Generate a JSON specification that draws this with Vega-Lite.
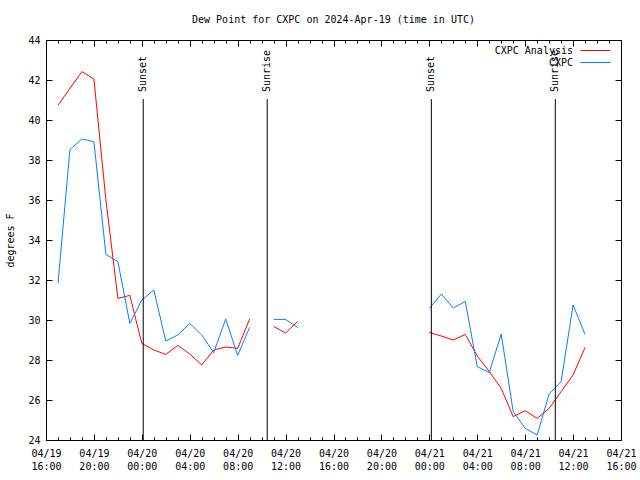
{
  "$schema": "https://vega.github.io/schema/vega-lite/v6.json",
  "width": 575,
  "height": 400,
  "autosize": {"type": "none"},
  "padding": {"left": 46, "top": 40, "right": 19, "bottom": 40},
  "background": "white",
  "title": {
    "text": "Dew Point for CXPC on 2024-Apr-19 (time in UTC)",
    "font": "DejaVu Sans Mono",
    "fontSize": 10,
    "fontWeight": "normal",
    "color": "black",
    "offset": 10
  },
  "datasets": {
    "obs": [
      {"t": "2024-04-19T17:00:00Z", "v": 40.73, "series": "CXPC Analysis", "seg": 1},
      {"t": "2024-04-19T18:00:00Z", "v": 41.58, "series": "CXPC Analysis", "seg": 1},
      {"t": "2024-04-19T19:00:00Z", "v": 42.42, "series": "CXPC Analysis", "seg": 1},
      {"t": "2024-04-19T20:00:00Z", "v": 42.05, "series": "CXPC Analysis", "seg": 1},
      {"t": "2024-04-19T21:00:00Z", "v": 36.0, "series": "CXPC Analysis", "seg": 1},
      {"t": "2024-04-19T22:00:00Z", "v": 31.08, "series": "CXPC Analysis", "seg": 1},
      {"t": "2024-04-19T23:00:00Z", "v": 31.23, "series": "CXPC Analysis", "seg": 1},
      {"t": "2024-04-20T00:00:00Z", "v": 28.83, "series": "CXPC Analysis", "seg": 1},
      {"t": "2024-04-20T01:00:00Z", "v": 28.5, "series": "CXPC Analysis", "seg": 1},
      {"t": "2024-04-20T02:00:00Z", "v": 28.28, "series": "CXPC Analysis", "seg": 1},
      {"t": "2024-04-20T03:00:00Z", "v": 28.73, "series": "CXPC Analysis", "seg": 1},
      {"t": "2024-04-20T04:00:00Z", "v": 28.3, "series": "CXPC Analysis", "seg": 1},
      {"t": "2024-04-20T05:00:00Z", "v": 27.75, "series": "CXPC Analysis", "seg": 1},
      {"t": "2024-04-20T06:00:00Z", "v": 28.5, "series": "CXPC Analysis", "seg": 1},
      {"t": "2024-04-20T07:00:00Z", "v": 28.65, "series": "CXPC Analysis", "seg": 1},
      {"t": "2024-04-20T08:00:00Z", "v": 28.58, "series": "CXPC Analysis", "seg": 1},
      {"t": "2024-04-20T09:00:00Z", "v": 30.05, "series": "CXPC Analysis", "seg": 1},
      {"t": "2024-04-20T11:00:00Z", "v": 29.68, "series": "CXPC Analysis", "seg": 2},
      {"t": "2024-04-20T12:00:00Z", "v": 29.35, "series": "CXPC Analysis", "seg": 2},
      {"t": "2024-04-20T13:00:00Z", "v": 29.93, "series": "CXPC Analysis", "seg": 2},
      {"t": "2024-04-21T00:00:00Z", "v": 29.38, "series": "CXPC Analysis", "seg": 3},
      {"t": "2024-04-21T01:00:00Z", "v": 29.2, "series": "CXPC Analysis", "seg": 3},
      {"t": "2024-04-21T02:00:00Z", "v": 29.0, "series": "CXPC Analysis", "seg": 3},
      {"t": "2024-04-21T03:00:00Z", "v": 29.28, "series": "CXPC Analysis", "seg": 3},
      {"t": "2024-04-21T04:00:00Z", "v": 28.2, "series": "CXPC Analysis", "seg": 3},
      {"t": "2024-04-21T05:00:00Z", "v": 27.42, "series": "CXPC Analysis", "seg": 3},
      {"t": "2024-04-21T06:00:00Z", "v": 26.58, "series": "CXPC Analysis", "seg": 3},
      {"t": "2024-04-21T07:00:00Z", "v": 25.17, "series": "CXPC Analysis", "seg": 3},
      {"t": "2024-04-21T08:00:00Z", "v": 25.47, "series": "CXPC Analysis", "seg": 3},
      {"t": "2024-04-21T09:00:00Z", "v": 25.08, "series": "CXPC Analysis", "seg": 3},
      {"t": "2024-04-21T10:00:00Z", "v": 25.58, "series": "CXPC Analysis", "seg": 3},
      {"t": "2024-04-21T11:00:00Z", "v": 26.42, "series": "CXPC Analysis", "seg": 3},
      {"t": "2024-04-21T12:00:00Z", "v": 27.25, "series": "CXPC Analysis", "seg": 3},
      {"t": "2024-04-21T13:00:00Z", "v": 28.63, "series": "CXPC Analysis", "seg": 3},
      {"t": "2024-04-19T17:00:00Z", "v": 31.83, "series": "CXPC", "seg": 1},
      {"t": "2024-04-19T18:00:00Z", "v": 38.53, "series": "CXPC", "seg": 1},
      {"t": "2024-04-19T19:00:00Z", "v": 39.05, "series": "CXPC", "seg": 1},
      {"t": "2024-04-19T20:00:00Z", "v": 38.92, "series": "CXPC", "seg": 1},
      {"t": "2024-04-19T21:00:00Z", "v": 33.28, "series": "CXPC", "seg": 1},
      {"t": "2024-04-19T22:00:00Z", "v": 32.92, "series": "CXPC", "seg": 1},
      {"t": "2024-04-19T23:00:00Z", "v": 29.83, "series": "CXPC", "seg": 1},
      {"t": "2024-04-20T00:00:00Z", "v": 31.0, "series": "CXPC", "seg": 1},
      {"t": "2024-04-20T01:00:00Z", "v": 31.5, "series": "CXPC", "seg": 1},
      {"t": "2024-04-20T02:00:00Z", "v": 28.95, "series": "CXPC", "seg": 1},
      {"t": "2024-04-20T03:00:00Z", "v": 29.25, "series": "CXPC", "seg": 1},
      {"t": "2024-04-20T04:00:00Z", "v": 29.83, "series": "CXPC", "seg": 1},
      {"t": "2024-04-20T05:00:00Z", "v": 29.25, "series": "CXPC", "seg": 1},
      {"t": "2024-04-20T06:00:00Z", "v": 28.37, "series": "CXPC", "seg": 1},
      {"t": "2024-04-20T07:00:00Z", "v": 30.05, "series": "CXPC", "seg": 1},
      {"t": "2024-04-20T08:00:00Z", "v": 28.23, "series": "CXPC", "seg": 1},
      {"t": "2024-04-20T09:00:00Z", "v": 29.63, "series": "CXPC", "seg": 1},
      {"t": "2024-04-20T11:00:00Z", "v": 30.03, "series": "CXPC", "seg": 2},
      {"t": "2024-04-20T12:00:00Z", "v": 30.03, "series": "CXPC", "seg": 2},
      {"t": "2024-04-20T13:00:00Z", "v": 29.63, "series": "CXPC", "seg": 2},
      {"t": "2024-04-21T00:00:00Z", "v": 30.58, "series": "CXPC", "seg": 3},
      {"t": "2024-04-21T01:00:00Z", "v": 31.3, "series": "CXPC", "seg": 3},
      {"t": "2024-04-21T02:00:00Z", "v": 30.6, "series": "CXPC", "seg": 3},
      {"t": "2024-04-21T03:00:00Z", "v": 30.93, "series": "CXPC", "seg": 3},
      {"t": "2024-04-21T04:00:00Z", "v": 27.67, "series": "CXPC", "seg": 3},
      {"t": "2024-04-21T05:00:00Z", "v": 27.37, "series": "CXPC", "seg": 3},
      {"t": "2024-04-21T06:00:00Z", "v": 29.3, "series": "CXPC", "seg": 3},
      {"t": "2024-04-21T07:00:00Z", "v": 25.42, "series": "CXPC", "seg": 3},
      {"t": "2024-04-21T08:00:00Z", "v": 24.58, "series": "CXPC", "seg": 3},
      {"t": "2024-04-21T09:00:00Z", "v": 24.25, "series": "CXPC", "seg": 3},
      {"t": "2024-04-21T10:00:00Z", "v": 26.3, "series": "CXPC", "seg": 3},
      {"t": "2024-04-21T11:00:00Z", "v": 26.92, "series": "CXPC", "seg": 3},
      {"t": "2024-04-21T12:00:00Z", "v": 30.75, "series": "CXPC", "seg": 3},
      {"t": "2024-04-21T13:00:00Z", "v": 29.28, "series": "CXPC", "seg": 3}
    ],
    "events": [
      {"t": "2024-04-20T00:07:00Z", "label": "Sunset"},
      {"t": "2024-04-20T10:28:00Z", "label": "Sunrise"},
      {"t": "2024-04-21T00:10:00Z", "label": "Sunset"},
      {"t": "2024-04-21T10:31:00Z", "label": "Sunrise"}
    ]
  },
  "layer": [
    {
      "data": {"name": "obs"},
      "transform": [{"filter": "datum.series === 'CXPC Analysis'"}],
      "mark": {"type": "line", "strokeWidth": 1},
      "encoding": {
        "x": {
          "field": "t", "type": "temporal",
          "scale": {"type": "utc", "domain": [{"year": 2024, "month": 4, "date": 19, "hours": 16, "utc": true}, {"year": 2024, "month": 4, "date": 21, "hours": 16, "utc": true}]},
          "axis": {
            "orient": "bottom",
            "title": null,
            "values": [
              {"year": 2024, "month": 4, "date": 19, "hours": 16, "utc": true},
              {"year": 2024, "month": 4, "date": 19, "hours": 20, "utc": true},
              {"year": 2024, "month": 4, "date": 20, "hours": 0, "utc": true},
              {"year": 2024, "month": 4, "date": 20, "hours": 4, "utc": true},
              {"year": 2024, "month": 4, "date": 20, "hours": 8, "utc": true},
              {"year": 2024, "month": 4, "date": 20, "hours": 12, "utc": true},
              {"year": 2024, "month": 4, "date": 20, "hours": 16, "utc": true},
              {"year": 2024, "month": 4, "date": 20, "hours": 20, "utc": true},
              {"year": 2024, "month": 4, "date": 21, "hours": 0, "utc": true},
              {"year": 2024, "month": 4, "date": 21, "hours": 4, "utc": true},
              {"year": 2024, "month": 4, "date": 21, "hours": 8, "utc": true},
              {"year": 2024, "month": 4, "date": 21, "hours": 12, "utc": true},
              {"year": 2024, "month": 4, "date": 21, "hours": 16, "utc": true}
            ],
            "labelExpr": "[utcFormat(datum.value, '%m/%d'), utcFormat(datum.value, '%H:%M')]",
            "labelLineHeight": 13,
            "labelOverlap": false,
            "labelFlush": false,
            "tickSize": -6,
            "labelPadding": 14,
            "domain": false
          }
        },
        "y": {
          "field": "v", "type": "quantitative",
          "scale": {"domain": [24, 44], "nice": false, "zero": false},
          "axis": {"orient": "left", "title": "degrees F", "values": [24, 26, 28, 30, 32, 34, 36, 38, 40, 42, 44], "tickSize": -6, "labelPadding": 12, "domain": false, "labelOverlap": false, "titlePadding": 12}
        },
        "stroke": {
          "field": "series", "type": "nominal",
          "scale": {"domain": ["CXPC Analysis"], "range": ["#ff0000"]},
          "legend": {"orient": "none", "legendX": 534, "legendY": -5, "title": null, "symbolType": "stroke", "symbolSize": 900, "symbolStrokeWidth": 1, "labelAlign": "right", "labelOffset": -38, "padding": 0}
        },
        "detail": {"field": "seg", "type": "nominal"}
      }
    },
    {
      "data": {"name": "obs"},
      "transform": [{"filter": "datum.series === 'CXPC'"}],
      "mark": {"type": "line", "strokeWidth": 1},
      "encoding": {
        "x": {
          "field": "t", "type": "temporal",
          "axis": {
            "orient": "top",
            "title": null,
            "labels": false,
            "values": [
              {"year": 2024, "month": 4, "date": 19, "hours": 16, "utc": true},
              {"year": 2024, "month": 4, "date": 19, "hours": 20, "utc": true},
              {"year": 2024, "month": 4, "date": 20, "hours": 0, "utc": true},
              {"year": 2024, "month": 4, "date": 20, "hours": 4, "utc": true},
              {"year": 2024, "month": 4, "date": 20, "hours": 8, "utc": true},
              {"year": 2024, "month": 4, "date": 20, "hours": 12, "utc": true},
              {"year": 2024, "month": 4, "date": 20, "hours": 16, "utc": true},
              {"year": 2024, "month": 4, "date": 20, "hours": 20, "utc": true},
              {"year": 2024, "month": 4, "date": 21, "hours": 0, "utc": true},
              {"year": 2024, "month": 4, "date": 21, "hours": 4, "utc": true},
              {"year": 2024, "month": 4, "date": 21, "hours": 8, "utc": true},
              {"year": 2024, "month": 4, "date": 21, "hours": 12, "utc": true},
              {"year": 2024, "month": 4, "date": 21, "hours": 16, "utc": true}
            ],
            "tickSize": -6,
            "domain": false
          }
        },
        "y": {
          "field": "v", "type": "quantitative",
          "axis": {"orient": "right", "title": null, "labels": false, "values": [24, 26, 28, 30, 32, 34, 36, 38, 40, 42, 44], "tickSize": -6, "domain": false}
        },
        "color": {
          "field": "series", "type": "nominal",
          "scale": {"domain": ["CXPC"], "range": ["#0080ff"]},
          "legend": {"orient": "none", "legendX": 534, "legendY": 7, "title": null, "symbolType": "stroke", "symbolSize": 900, "symbolStrokeWidth": 1, "labelAlign": "right", "labelOffset": -38, "padding": 0}
        },
        "detail": {"field": "seg", "type": "nominal"}
      }
    },
    {
      "data": {"name": "events"},
      "mark": {"type": "rule", "color": "black", "strokeWidth": 1},
      "encoding": {
        "x": {
          "field": "t", "type": "temporal",
          "axis": {
            "orient": "bottom",
            "title": null,
            "labels": false,
            "values": [
              {"year": 2024, "month": 4, "date": 19, "hours": 17, "utc": true},
              {"year": 2024, "month": 4, "date": 19, "hours": 18, "utc": true},
              {"year": 2024, "month": 4, "date": 19, "hours": 19, "utc": true},
              {"year": 2024, "month": 4, "date": 19, "hours": 21, "utc": true},
              {"year": 2024, "month": 4, "date": 19, "hours": 22, "utc": true},
              {"year": 2024, "month": 4, "date": 19, "hours": 23, "utc": true},
              {"year": 2024, "month": 4, "date": 20, "hours": 1, "utc": true},
              {"year": 2024, "month": 4, "date": 20, "hours": 2, "utc": true},
              {"year": 2024, "month": 4, "date": 20, "hours": 3, "utc": true},
              {"year": 2024, "month": 4, "date": 20, "hours": 5, "utc": true},
              {"year": 2024, "month": 4, "date": 20, "hours": 6, "utc": true},
              {"year": 2024, "month": 4, "date": 20, "hours": 7, "utc": true},
              {"year": 2024, "month": 4, "date": 20, "hours": 9, "utc": true},
              {"year": 2024, "month": 4, "date": 20, "hours": 10, "utc": true},
              {"year": 2024, "month": 4, "date": 20, "hours": 11, "utc": true},
              {"year": 2024, "month": 4, "date": 20, "hours": 13, "utc": true},
              {"year": 2024, "month": 4, "date": 20, "hours": 14, "utc": true},
              {"year": 2024, "month": 4, "date": 20, "hours": 15, "utc": true},
              {"year": 2024, "month": 4, "date": 20, "hours": 17, "utc": true},
              {"year": 2024, "month": 4, "date": 20, "hours": 18, "utc": true},
              {"year": 2024, "month": 4, "date": 20, "hours": 19, "utc": true},
              {"year": 2024, "month": 4, "date": 20, "hours": 21, "utc": true},
              {"year": 2024, "month": 4, "date": 20, "hours": 22, "utc": true},
              {"year": 2024, "month": 4, "date": 20, "hours": 23, "utc": true},
              {"year": 2024, "month": 4, "date": 21, "hours": 1, "utc": true},
              {"year": 2024, "month": 4, "date": 21, "hours": 2, "utc": true},
              {"year": 2024, "month": 4, "date": 21, "hours": 3, "utc": true},
              {"year": 2024, "month": 4, "date": 21, "hours": 5, "utc": true},
              {"year": 2024, "month": 4, "date": 21, "hours": 6, "utc": true},
              {"year": 2024, "month": 4, "date": 21, "hours": 7, "utc": true},
              {"year": 2024, "month": 4, "date": 21, "hours": 9, "utc": true},
              {"year": 2024, "month": 4, "date": 21, "hours": 10, "utc": true},
              {"year": 2024, "month": 4, "date": 21, "hours": 11, "utc": true},
              {"year": 2024, "month": 4, "date": 21, "hours": 13, "utc": true},
              {"year": 2024, "month": 4, "date": 21, "hours": 14, "utc": true},
              {"year": 2024, "month": 4, "date": 21, "hours": 15, "utc": true}
            ],
            "tickSize": -3,
            "domain": false
          }
        },
        "y": {"datum": 24, "type": "quantitative", "axis": null},
        "y2": {"datum": 41.05}
      }
    },
    {
      "data": {"name": "events"},
      "mark": {"type": "text", "angle": 270, "align": "left", "baseline": "middle", "font": "DejaVu Sans Mono", "fontSize": 10, "color": "black"},
      "encoding": {
        "x": {
          "field": "t", "type": "temporal",
          "axis": {
            "orient": "top",
            "title": null,
            "labels": false,
            "values": [
              {"year": 2024, "month": 4, "date": 19, "hours": 17, "utc": true},
              {"year": 2024, "month": 4, "date": 19, "hours": 18, "utc": true},
              {"year": 2024, "month": 4, "date": 19, "hours": 19, "utc": true},
              {"year": 2024, "month": 4, "date": 19, "hours": 21, "utc": true},
              {"year": 2024, "month": 4, "date": 19, "hours": 22, "utc": true},
              {"year": 2024, "month": 4, "date": 19, "hours": 23, "utc": true},
              {"year": 2024, "month": 4, "date": 20, "hours": 1, "utc": true},
              {"year": 2024, "month": 4, "date": 20, "hours": 2, "utc": true},
              {"year": 2024, "month": 4, "date": 20, "hours": 3, "utc": true},
              {"year": 2024, "month": 4, "date": 20, "hours": 5, "utc": true},
              {"year": 2024, "month": 4, "date": 20, "hours": 6, "utc": true},
              {"year": 2024, "month": 4, "date": 20, "hours": 7, "utc": true},
              {"year": 2024, "month": 4, "date": 20, "hours": 9, "utc": true},
              {"year": 2024, "month": 4, "date": 20, "hours": 10, "utc": true},
              {"year": 2024, "month": 4, "date": 20, "hours": 11, "utc": true},
              {"year": 2024, "month": 4, "date": 20, "hours": 13, "utc": true},
              {"year": 2024, "month": 4, "date": 20, "hours": 14, "utc": true},
              {"year": 2024, "month": 4, "date": 20, "hours": 15, "utc": true},
              {"year": 2024, "month": 4, "date": 20, "hours": 17, "utc": true},
              {"year": 2024, "month": 4, "date": 20, "hours": 18, "utc": true},
              {"year": 2024, "month": 4, "date": 20, "hours": 19, "utc": true},
              {"year": 2024, "month": 4, "date": 20, "hours": 21, "utc": true},
              {"year": 2024, "month": 4, "date": 20, "hours": 22, "utc": true},
              {"year": 2024, "month": 4, "date": 20, "hours": 23, "utc": true},
              {"year": 2024, "month": 4, "date": 21, "hours": 1, "utc": true},
              {"year": 2024, "month": 4, "date": 21, "hours": 2, "utc": true},
              {"year": 2024, "month": 4, "date": 21, "hours": 3, "utc": true},
              {"year": 2024, "month": 4, "date": 21, "hours": 5, "utc": true},
              {"year": 2024, "month": 4, "date": 21, "hours": 6, "utc": true},
              {"year": 2024, "month": 4, "date": 21, "hours": 7, "utc": true},
              {"year": 2024, "month": 4, "date": 21, "hours": 9, "utc": true},
              {"year": 2024, "month": 4, "date": 21, "hours": 10, "utc": true},
              {"year": 2024, "month": 4, "date": 21, "hours": 11, "utc": true},
              {"year": 2024, "month": 4, "date": 21, "hours": 13, "utc": true},
              {"year": 2024, "month": 4, "date": 21, "hours": 14, "utc": true},
              {"year": 2024, "month": 4, "date": 21, "hours": 15, "utc": true}
            ],
            "tickSize": -3,
            "domain": false
          }
        },
        "y": {"datum": 41.4, "type": "quantitative", "axis": null},
        "text": {"field": "label"}
      }
    }
  ],
  "resolve": {"axis": {"x": "independent", "y": "independent"}},
  "config": {
    "view": {"stroke": "black", "strokeWidth": 1},
    "axis": {
      "grid": false,
      "tickColor": "black",
      "labelFont": "DejaVu Sans Mono",
      "labelFontSize": 10,
      "labelColor": "black",
      "titleFont": "DejaVu Sans Mono",
      "titleFontSize": 10,
      "titleFontWeight": "normal",
      "titleColor": "black"
    },
    "legend": {
      "labelFont": "DejaVu Sans Mono",
      "labelFontSize": 10,
      "labelColor": "black"
    }
  }
}
